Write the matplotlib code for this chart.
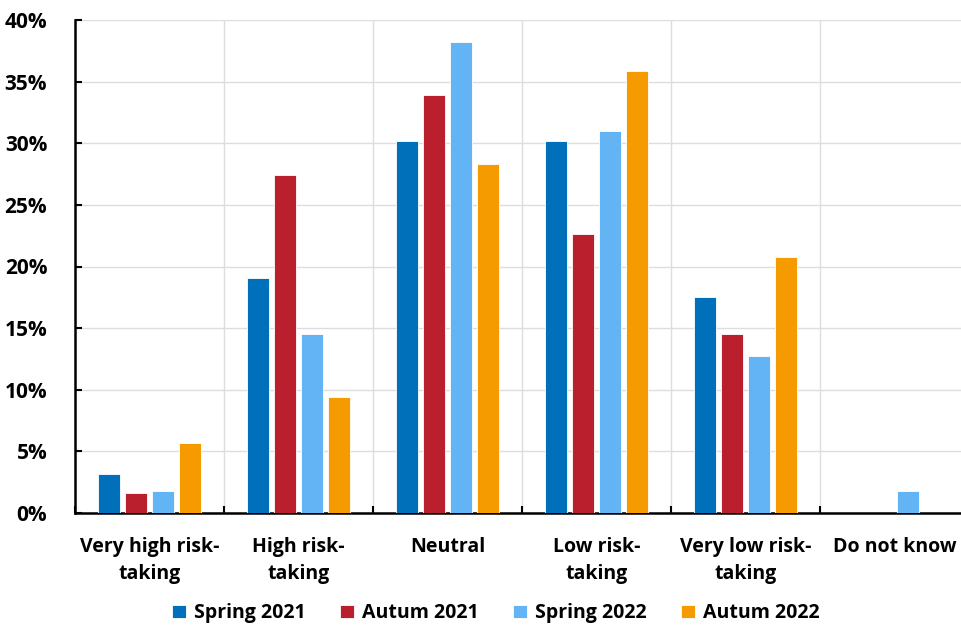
import numpy as np
import matplotlib.pyplot as plt
from matplotlib.ticker import FuncFormatter, MultipleLocator

plt.rcParams['font.family'] = ['Open Sans', 'DejaVu Sans']
plt.rcParams['font.weight'] = 'bold'

categories = ["Very high risk-\ntaking", "High risk-\ntaking", "Neutral",
              "Low risk-\ntaking", "Very low risk-\ntaking", "Do not know"]
series = ["Spring 2021", "Autum 2021", "Spring 2022", "Autum 2022"]
spring_2021 = [3.2, 19.1, 30.2, 30.2, 17.5, 0.0]
autum_2021 = [1.6, 27.4, 33.9, 22.6, 14.5, 0.0]
spring_2022 = [1.8, 14.5, 38.2, 31.0, 12.7, 1.8]
autum_2022 = [5.7, 9.4, 28.3, 35.9, 20.8, 0.0]
colors = ["#0070BA", "#BA1F2E", "#63B4F4", "#F59B00"]

fig = plt.figure(figsize=(9.61, 6.27), dpi=100)
ax = fig.add_axes([75 / 961, 114 / 627, 894 / 961, 493 / 627])

x = np.arange(len(categories))
pitch = 0.181
width = 0.143
for i, (vals, col, name) in enumerate(zip([spring_2021, autum_2021, spring_2022, autum_2022], colors, series)):
    ax.bar(x + (i - 1.5) * pitch, vals, width, color=col, label=name,
           edgecolor="white", linewidth=0.6, zorder=3)

ax.set_xlim(-0.5, len(categories) - 0.5)
ax.set_ylim(0, 40)
ax.yaxis.set_major_locator(MultipleLocator(5))
ax.yaxis.set_major_formatter(FuncFormatter(lambda v, p: f"{v:.0f}%"))

ax.set_xticks(np.arange(len(categories) + 1) - 0.5)
ax.set_xticklabels([])
ax.set_xticks(x, minor=True)
ax.set_xticklabels(categories, minor=True, fontsize=14, fontweight="bold", linespacing=1.5)
ax.tick_params(axis="x", which="minor", length=0, pad=17)
ax.tick_params(axis="x", which="major", direction="in", length=5, width=1.5)
ax.tick_params(axis="y", direction="in", length=5, width=1.5, labelsize=15, pad=20)
for lab in ax.get_yticklabels():
    lab.set_fontweight("bold")

ax.grid(True, which="major", color="#dddddd", linewidth=1, zorder=0)
for s in ["top", "right"]:
    ax.spines[s].set_visible(False)
for s in ["left", "bottom"]:
    ax.spines[s].set_linewidth(1.8)

fig.legend(loc="lower center", bbox_to_anchor=(0.516, -0.022), ncol=4, frameon=False,
           prop={"size": 14, "weight": "bold"}, handlelength=0.7, handleheight=0.7,
           handletextpad=0.4, columnspacing=1.8)

fig.savefig("out.png", dpi=100)
